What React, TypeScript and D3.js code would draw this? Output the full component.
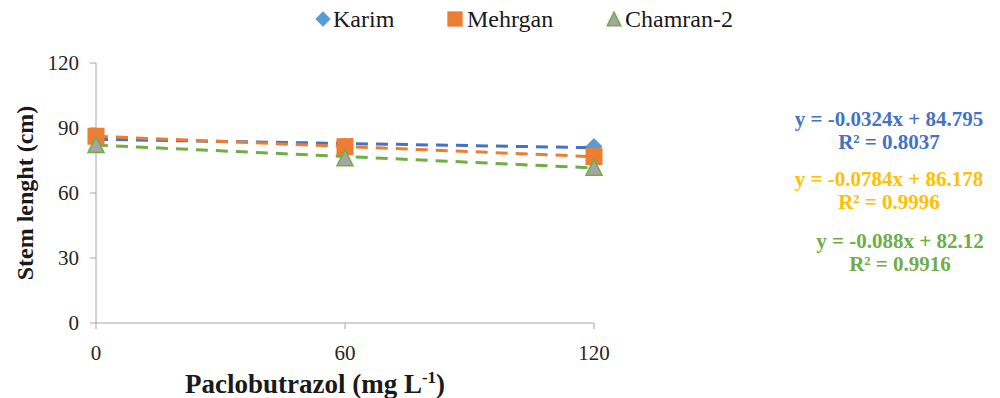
import React from 'react';
import * as d3 from 'd3';

// Paclobutrazol doses (mg L-1)
const doses = [0, 60, 120];
const yTicks = [0, 30, 60, 90, 120];

const karim = [85.35, 81.74, 81.46];
const mehrgan = [86.2, 81.4, 76.8];
const chamran = [82.4, 76.28, 71.84];

const seriesNames = ['Karim', 'Mehrgan', 'Chamran-2'];
const equations = ['y = -0.0324x + 84.795', 'y = -0.0784x + 86.178', 'y = -0.088x + 82.12'];
const rSquared = ['R² = 0.8037', 'R² = 0.9996', 'R² = 0.9916'];

const W = 1000;
const H = 398;
const FONT = "'Liberation Serif', 'Times New Roman', Times, serif";

const App: React.FC = () => {
  const x = d3.scaleLinear().domain([0, 120]).range([96, 594]);
  const y = d3.scaleLinear().domain([0, 120]).range([323, 63]);

  const series = [
    { name: seriesNames[0], values: karim, fill: '#5B9BD5', stroke: '#5B9BD5', trend: '#4472C4', eqColor: '#4472C4', shape: 'diamond' },
    { name: seriesNames[1], values: mehrgan, fill: '#ED7D31', stroke: '#ED7D31', trend: '#ED7D31', eqColor: '#FFC000', shape: 'square' },
    { name: seriesNames[2], values: chamran, fill: '#A5A5A5', stroke: '#70AD47', trend: '#70AD47', eqColor: '#70AD47', shape: 'triangle' },
  ];

  // least squares fit for the trend lines
  const fit = (vals: number[]) => {
    const mx = d3.mean(doses)!;
    const my = d3.mean(vals)!;
    const num = d3.sum(doses.map((d, i) => (d - mx) * (vals[i] - my)));
    const den = d3.sum(doses.map(d => (d - mx) ** 2));
    const b = num / den;
    return { a: my - b * mx, b };
  };

  const marker = (shape: string, cx: number, cy: number, fill: string, stroke: string, s = 1) => {
    if (shape === 'diamond') {
      const r = 8.5 * s;
      return <path d={`M${cx},${cy - r}L${cx + r},${cy}L${cx},${cy + r}L${cx - r},${cy}Z`} fill={fill} />;
    }
    if (shape === 'square') {
      const r = 8.5 * s;
      return <rect x={cx - r} y={cy - r} width={2 * r} height={2 * r} fill={fill} />;
    }
    const r = 8 * s;
    return (
      <path
        d={`M${cx},${cy - r}L${cx + r},${cy + r}L${cx - r},${cy + r}Z`}
        fill={fill}
        stroke={stroke}
        strokeWidth={1.5}
      />
    );
  };

  const legendPos = [
    { mx: 323, tx: 333 },
    { mx: 455, tx: 467 },
    { mx: 614, tx: 625 },
  ];

  const eqPos = [
    { cx: 889, y1: 126, y2: 149 },
    { cx: 889, y1: 186, y2: 209 },
    { cx: 900, y1: 248, y2: 271 },
  ];

  return (
    <svg width={W} height={H} style={{ position: 'absolute', left: 0, top: 0, background: '#fff', fontFamily: FONT }}>
      {/* axes */}
      <line x1={96} x2={96} y1={63} y2={323} stroke="#A6A6A6" strokeWidth={1} />
      <line x1={96} x2={594} y1={323} y2={323} stroke="#A6A6A6" strokeWidth={1} />
      {yTicks.map(t => (
        <g key={'y' + t}>
          <line x1={90} x2={96} y1={y(t)} y2={y(t)} stroke="#A6A6A6" />
          <text x={79} y={y(t)} dy="0.35em" textAnchor="end" fontSize={21} fill="#262626">{t}</text>
        </g>
      ))}
      {doses.map(d => (
        <g key={'x' + d}>
          <line x1={x(d)} x2={x(d)} y1={323} y2={329} stroke="#A6A6A6" />
          <text x={x(d)} y={360} textAnchor="middle" fontSize={21} fill="#262626">{d}</text>
        </g>
      ))}

      {/* trend lines */}
      {series.map(s => {
        const { a, b } = fit(s.values);
        return (
          <line
            key={'t' + s.name}
            x1={x(0)}
            y1={y(a)}
            x2={x(120)}
            y2={y(a + b * 120)}
            stroke={s.trend}
            strokeWidth={3}
            strokeDasharray="12,8"
          />
        );
      })}

      {/* markers */}
      {series.map(s => (
        <g key={'m' + s.name}>
          {s.values.map((v, i) => (
            <g key={i}>{marker(s.shape, x(doses[i]), y(v), s.fill, s.stroke)}</g>
          ))}
        </g>
      ))}

      {/* legend */}
      {series.map((s, i) => (
        <g key={'l' + s.name}>
          {marker(s.shape, legendPos[i].mx, 19, s.fill, s.stroke, i === 2 ? 0.85 : 0.9)}
          <text x={legendPos[i].tx} y={27} fontSize={24} fill="#1a1a1a">{s.name}</text>
        </g>
      ))}

      {/* equations */}
      {series.map((s, i) => (
        <g key={'e' + s.name} fill={s.eqColor} fontWeight="bold" fontSize={21} textAnchor="middle">
          <text x={eqPos[i].cx} y={eqPos[i].y1}>{equations[i]}</text>
          <text x={eqPos[i].cx} y={eqPos[i].y2}>{rSquared[i]}</text>
        </g>
      ))}

      {/* axis titles */}
      <text
        transform="translate(33,193) rotate(-90)"
        textAnchor="middle"
        fontSize={24}
        fontWeight="bold"
        fill="#1a1a1a"
      >
        Stem lenght (cm)
      </text>
      <text x={315} y={393} textAnchor="middle" fontSize={27} fontWeight="bold" fill="#1a1a1a">
        Paclobutrazol (mg L<tspan dy={-10} fontSize={17}>-1</tspan><tspan dy={10}>)</tspan>
      </text>
    </svg>
  );
};

export default App;
